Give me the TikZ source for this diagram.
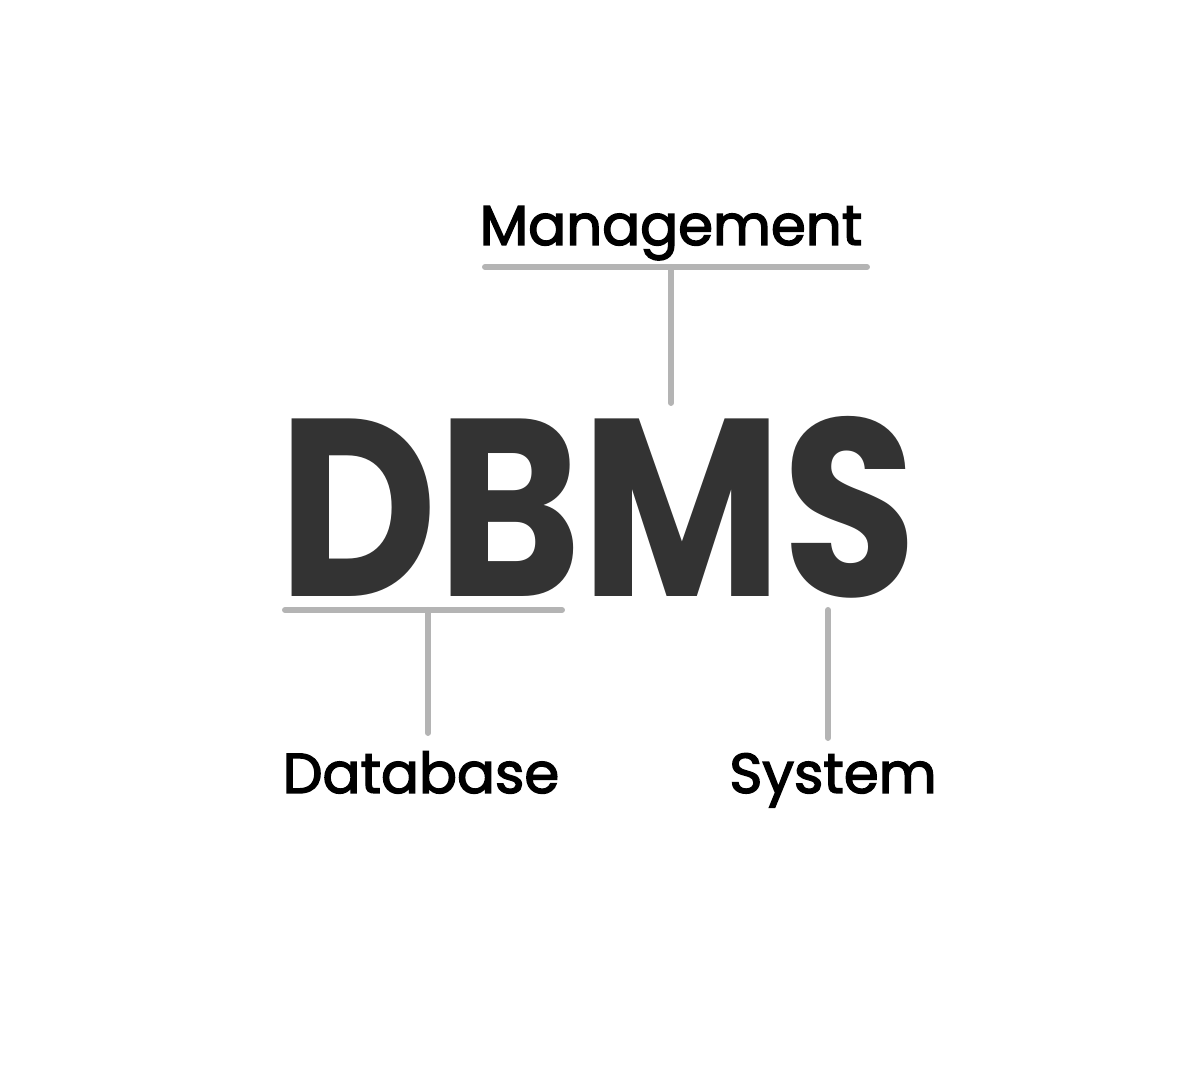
\documentclass[tikz,border=0pt]{standalone}
\usepackage{fontspec}
\setmainfont{Poppins}
\newfontfamily\labelfont[BoldFont={Poppins}, BoldFeatures={FakeBold=2.5}]{Poppins}
\usepackage{tikz}
\definecolor{mydarkgray}{RGB}{51,51,51}
\definecolor{mylinegray}{RGB}{180,180,180}

\begin{document}
\begin{tikzpicture}
    % Define sizes
    \def\W{12}
    \def\H{10.72}

    % Fix the page size
    \useasboundingbox (0,0) rectangle (\W,\H);

    \tikzset{
      wordlabel/.style={font=\labelfont\fontsize{16}{19}\selectfont\bfseries, text=black, inner sep=0pt, anchor=base},
      bigword/.style={font=\fontsize{72}{80}\selectfont\bfseries, text=mydarkgray, inner sep=0pt, anchor=base},
      grayline/.style={draw=mylinegray, line width=1.7pt, line cap=round}
    }

    % Big title, a bit narrower than the font
    \node [bigword] (dbms) at (5.975,4.75) {\scalebox{0.865}[1]{DBMS}};

    % Labels for each word
    \node [wordlabel] (mgmt) at (6.71,8.27) {Management};
    \node [wordlabel] (db) at (4.21,2.79) {Database};
    \node [wordlabel] (sys) at (8.33,2.79) {System};

    % Bar under Management and its stem down to DBMS
    \coordinate (mL) at (4.85,8.05);
    \coordinate (mR) at (8.67,8.05);
    \coordinate (mTop) at (6.71,8.05);
    \coordinate (mBot) at (6.71,6.69);
    \draw [grayline] (mL) -- (mR);
    \draw [grayline] (mTop) -- (mBot);

    % Bar under D and B with stem down to Database
    \coordinate (dL) at (2.85,4.62);
    \coordinate (dR) at (5.62,4.62);
    \coordinate (dTop) at (4.28,4.62);
    \coordinate (dBot) at (4.28,3.39);
    \draw [grayline] (dL) -- (dR);
    \draw [grayline] (dTop) -- (dBot);

    % Stem from S down to System
    \coordinate (sTop) at (8.28,4.62);
    \coordinate (sBot) at (8.28,3.34);
    \draw [grayline] (sTop) -- (sBot);
\end{tikzpicture}
\end{document}
